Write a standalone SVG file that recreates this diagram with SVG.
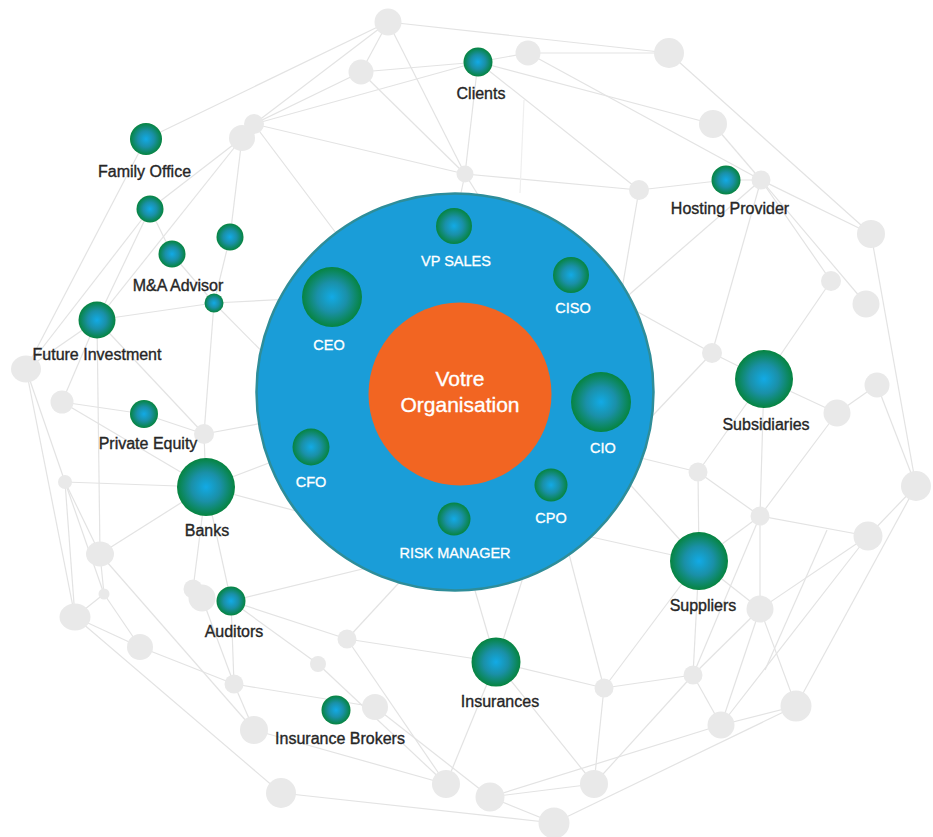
<svg xmlns="http://www.w3.org/2000/svg" width="933" height="837" viewBox="0 0 933 837">
<style>
.e{stroke:#e3e3e3;stroke-width:1.2;fill:none}
.ef{stroke:#efefef;stroke-width:1.2;fill:none}
.g{fill:#e9e9e9}
.n{fill:url(#gn)}
.lbl{font-family:"Liberation Sans",Arial,sans-serif;font-size:16px;fill:#262626;stroke:#262626;stroke-width:0.35;text-anchor:middle}
.in{font-family:"Liberation Sans",Arial,sans-serif;font-size:14.5px;fill:#ffffff;stroke:#ffffff;stroke-width:0.3;text-anchor:middle}
.core{font-family:"Liberation Sans",Arial,sans-serif;font-size:21px;fill:#ffffff;stroke:#ffffff;stroke-width:0.35;text-anchor:middle}
</style>
<defs>
<radialGradient id="gn" cx="50%" cy="50%" r="50%">
<stop offset="0" stop-color="#12aae6"/>
<stop offset="0.5" stop-color="#1a90a8"/>
<stop offset="1" stop-color="#06843f"/>
</radialGradient>
</defs>
<rect width="933" height="837" fill="#ffffff"/>
<g id="connectors">
<line class="e" x1="388" y1="22" x2="146" y2="139"/>
<line class="e" x1="388" y1="22" x2="254" y2="124"/>
<line class="e" x1="388" y1="22" x2="361" y2="72"/>
<line class="e" x1="388" y1="22" x2="465" y2="174"/>
<line class="e" x1="388" y1="22" x2="669" y2="53"/>
<line class="e" x1="361" y1="72" x2="478" y2="62"/>
<line class="e" x1="361" y1="72" x2="465" y2="174"/>
<line class="e" x1="361" y1="72" x2="254" y2="124"/>
<line class="e" x1="254" y1="124" x2="478" y2="62"/>
<line class="e" x1="254" y1="124" x2="465" y2="174"/>
<line class="e" x1="254" y1="124" x2="345" y2="245"/>
<line class="e" x1="242" y1="138" x2="150" y2="209"/>
<line class="e" x1="242" y1="138" x2="97" y2="320"/>
<line class="e" x1="242" y1="138" x2="230" y2="237"/>
<line class="e" x1="230" y1="237" x2="214" y2="303"/>
<line class="e" x1="146" y1="139" x2="26" y2="369"/>
<line class="e" x1="150" y1="209" x2="26" y2="369"/>
<line class="e" x1="150" y1="209" x2="97" y2="320"/>
<line class="e" x1="150" y1="209" x2="172" y2="254"/>
<line class="e" x1="172" y1="254" x2="214" y2="303"/>
<line class="e" x1="214" y1="303" x2="97" y2="320"/>
<line class="e" x1="214" y1="303" x2="332" y2="297"/>
<line class="e" x1="214" y1="303" x2="300" y2="390"/>
<line class="e" x1="214" y1="303" x2="204" y2="434"/>
<line class="e" x1="97" y1="320" x2="26" y2="369"/>
<line class="e" x1="97" y1="320" x2="62" y2="402"/>
<line class="e" x1="97" y1="320" x2="204" y2="434"/>
<line class="e" x1="97" y1="320" x2="100" y2="554"/>
<line class="e" x1="62" y1="402" x2="144" y2="414"/>
<line class="e" x1="62" y1="402" x2="206" y2="487"/>
<line class="e" x1="26" y1="369" x2="75" y2="617"/>
<line class="e" x1="26" y1="369" x2="65" y2="482"/>
<line class="e" x1="65" y1="482" x2="206" y2="487"/>
<line class="e" x1="65" y1="482" x2="75" y2="617"/>
<line class="e" x1="65" y1="482" x2="100" y2="554"/>
<line class="e" x1="65" y1="482" x2="104" y2="594"/>
<line class="e" x1="100" y1="554" x2="206" y2="487"/>
<line class="e" x1="100" y1="554" x2="104" y2="594"/>
<line class="e" x1="100" y1="554" x2="254" y2="730"/>
<line class="e" x1="104" y1="594" x2="75" y2="617"/>
<line class="e" x1="104" y1="594" x2="140" y2="647"/>
<line class="e" x1="75" y1="617" x2="140" y2="647"/>
<line class="e" x1="75" y1="617" x2="281" y2="793"/>
<line class="e" x1="140" y1="647" x2="234" y2="684"/>
<line class="e" x1="234" y1="684" x2="231" y2="601"/>
<line class="e" x1="234" y1="684" x2="202" y2="598"/>
<line class="e" x1="234" y1="684" x2="254" y2="730"/>
<line class="e" x1="234" y1="684" x2="375" y2="707"/>
<line class="e" x1="254" y1="730" x2="446" y2="784"/>
<line class="e" x1="281" y1="793" x2="554" y2="823"/>
<line class="e" x1="206" y1="487" x2="204" y2="434"/>
<line class="e" x1="206" y1="487" x2="231" y2="601"/>
<line class="e" x1="206" y1="487" x2="193" y2="589"/>
<line class="e" x1="206" y1="487" x2="300" y2="512"/>
<line class="e" x1="206" y1="487" x2="311" y2="447"/>
<line class="e" x1="144" y1="414" x2="204" y2="434"/>
<line class="e" x1="204" y1="434" x2="290" y2="418"/>
<line class="e" x1="231" y1="601" x2="420" y2="555"/>
<line class="e" x1="231" y1="601" x2="347" y2="639"/>
<line class="e" x1="231" y1="601" x2="318" y2="664"/>
<line class="e" x1="347" y1="639" x2="496" y2="662"/>
<line class="e" x1="347" y1="639" x2="420" y2="560"/>
<line class="e" x1="347" y1="639" x2="446" y2="784"/>
<line class="e" x1="318" y1="664" x2="446" y2="784"/>
<line class="e" x1="375" y1="707" x2="490" y2="797"/>
<line class="e" x1="446" y1="784" x2="496" y2="662"/>
<line class="e" x1="490" y1="797" x2="594" y2="784"/>
<line class="e" x1="490" y1="797" x2="721" y2="725"/>
<line class="e" x1="490" y1="797" x2="554" y2="823"/>
<line class="e" x1="554" y1="823" x2="796" y2="706"/>
<line class="e" x1="496" y1="662" x2="604" y2="688"/>
<line class="e" x1="496" y1="662" x2="454" y2="519"/>
<line class="e" x1="496" y1="662" x2="535" y2="540"/>
<line class="e" x1="496" y1="662" x2="594" y2="784"/>
<line class="e" x1="604" y1="688" x2="551" y2="485"/>
<line class="e" x1="604" y1="688" x2="594" y2="784"/>
<line class="e" x1="604" y1="688" x2="693" y2="675"/>
<line class="e" x1="604" y1="688" x2="699" y2="561"/>
<line class="e" x1="594" y1="784" x2="693" y2="675"/>
<line class="e" x1="693" y1="675" x2="699" y2="561"/>
<line class="e" x1="693" y1="675" x2="760" y2="609"/>
<line class="e" x1="693" y1="675" x2="721" y2="725"/>
<line class="e" x1="693" y1="675" x2="760" y2="516"/>
<line class="e" x1="721" y1="725" x2="760" y2="609"/>
<line class="e" x1="721" y1="725" x2="796" y2="706"/>
<line class="e" x1="721" y1="725" x2="868" y2="536"/>
<line class="e" x1="827" y1="530" x2="765" y2="670"/>
<line class="e" x1="796" y1="706" x2="760" y2="609"/>
<line class="e" x1="796" y1="706" x2="916" y2="486"/>
<line class="e" x1="760" y1="609" x2="760" y2="516"/>
<line class="e" x1="760" y1="609" x2="699" y2="561"/>
<line class="e" x1="760" y1="609" x2="868" y2="536"/>
<line class="e" x1="760" y1="516" x2="699" y2="561"/>
<line class="e" x1="760" y1="516" x2="698" y2="472"/>
<line class="e" x1="760" y1="516" x2="868" y2="536"/>
<line class="e" x1="760" y1="516" x2="764" y2="379"/>
<line class="e" x1="760" y1="516" x2="837" y2="413"/>
<line class="e" x1="868" y1="536" x2="916" y2="486"/>
<line class="e" x1="698" y1="472" x2="699" y2="561"/>
<line class="e" x1="698" y1="472" x2="764" y2="379"/>
<line class="e" x1="698" y1="472" x2="600" y2="448"/>
<line class="e" x1="699" y1="561" x2="560" y2="530"/>
<line class="e" x1="699" y1="561" x2="590" y2="440"/>
<line class="e" x1="712" y1="353" x2="764" y2="379"/>
<line class="e" x1="764" y1="379" x2="831" y2="281"/>
<line class="e" x1="764" y1="379" x2="837" y2="413"/>
<line class="e" x1="837" y1="413" x2="877" y2="385"/>
<line class="e" x1="877" y1="385" x2="916" y2="486"/>
<line class="e" x1="871" y1="234" x2="916" y2="486"/>
<line class="e" x1="712" y1="353" x2="761" y2="180"/>
<line class="e" x1="712" y1="353" x2="571" y2="275"/>
<line class="e" x1="712" y1="353" x2="620" y2="450"/>
<line class="e" x1="761" y1="180" x2="726" y2="180"/>
<line class="e" x1="713" y1="124" x2="761" y2="180"/>
<line class="e" x1="761" y1="180" x2="831" y2="281"/>
<line class="e" x1="761" y1="180" x2="866" y2="304"/>
<line class="e" x1="761" y1="180" x2="871" y2="234"/>
<line class="e" x1="528" y1="53" x2="761" y2="180"/>
<line class="e" x1="478" y1="62" x2="713" y2="124"/>
<line class="e" x1="478" y1="62" x2="528" y2="53"/>
<line class="e" x1="528" y1="53" x2="669" y2="53"/>
<line class="e" x1="669" y1="53" x2="871" y2="234"/>
<line class="e" x1="478" y1="62" x2="639" y2="190"/>
<line class="e" x1="478" y1="62" x2="465" y2="174"/>
<line class="e" x1="465" y1="174" x2="639" y2="190"/>
<line class="e" x1="639" y1="190" x2="726" y2="180"/>
<line class="e" x1="639" y1="190" x2="615" y2="330"/>
<line class="e" x1="465" y1="174" x2="454" y2="226"/>
<line class="e" x1="465" y1="174" x2="500" y2="230"/>
<line class="e" x1="761" y1="180" x2="600" y2="320"/>
<line class="ef" x1="524" y1="100" x2="520" y2="193"/>
</g>
<g id="network-nodes">
<circle class="g" cx="388" cy="22" r="13.5"/>
<circle class="g" cx="361" cy="72" r="12.5"/>
<circle class="g" cx="528" cy="53" r="12.5"/>
<circle class="g" cx="669" cy="53" r="15"/>
<circle class="g" cx="242" cy="138" r="13"/>
<circle class="g" cx="254" cy="124" r="10"/>
<circle class="g" cx="465" cy="174" r="8.5"/>
<circle class="g" cx="639" cy="190" r="10"/>
<circle class="g" cx="713" cy="124" r="14"/>
<circle class="g" cx="761" cy="180" r="9.5"/>
<circle class="g" cx="871" cy="234" r="14"/>
<circle class="g" cx="831" cy="281" r="10"/>
<circle class="g" cx="866" cy="304" r="13.5"/>
<circle class="g" cx="712" cy="353" r="10"/>
<circle class="g" cx="877" cy="385" r="12.5"/>
<circle class="g" cx="837" cy="413" r="13.5"/>
<circle class="g" cx="916" cy="486" r="15"/>
<circle class="g" cx="698" cy="472" r="9.5"/>
<circle class="g" cx="760" cy="516" r="9.5"/>
<circle class="g" cx="868" cy="536" r="14.5"/>
<circle class="g" cx="760" cy="609" r="13.5"/>
<circle class="g" cx="693" cy="675" r="9.5"/>
<circle class="g" cx="604" cy="688" r="9.5"/>
<circle class="g" cx="721" cy="725" r="13.5"/>
<circle class="g" cx="796" cy="706" r="15.5"/>
<circle class="g" cx="594" cy="784" r="14"/>
<circle class="g" cx="554" cy="823" r="15.5"/>
<circle class="g" cx="490" cy="797" r="14.5"/>
<circle class="g" cx="446" cy="784" r="14"/>
<circle class="g" cx="375" cy="707" r="13"/>
<circle class="g" cx="318" cy="664" r="8"/>
<circle class="g" cx="347" cy="639" r="9.5"/>
<circle class="g" cx="234" cy="684" r="9.5"/>
<circle class="g" cx="254" cy="730" r="14"/>
<circle class="g" cx="281" cy="793" r="15"/>
<circle class="g" cx="140" cy="647" r="13"/>
<ellipse class="g" cx="75" cy="617" rx="15.5" ry="13.5"/>
<circle class="g" cx="104" cy="594" r="5.5"/>
<ellipse class="g" cx="100" cy="554" rx="14" ry="12.5"/>
<circle class="g" cx="65" cy="482" r="7"/>
<circle class="g" cx="62" cy="402" r="11.5"/>
<ellipse class="g" cx="26" cy="369" rx="15" ry="13.5"/>
<circle class="g" cx="204" cy="434" r="10"/>
<circle class="g" cx="193" cy="589" r="9.5"/>
<circle class="g" cx="202" cy="598" r="13.5"/>
</g>
<g id="organisation-ring">
<circle cx="455" cy="392" r="198.5" fill="#1a9dd8" stroke="#2e8d99" stroke-width="2.5"/>
</g>
<g id="votre-organisation">
<circle cx="460" cy="394" r="91.5" fill="#f26522"/>
<text class="core" x="460" y="386">Votre</text>
<text class="core" x="460" y="412">Organisation</text>
</g>
<g id="vp-sales"><circle class="n" cx="454" cy="226" r="18"/><text class="in" x="456" y="266">VP SALES</text></g>
<g id="ciso"><circle class="n" cx="571" cy="275" r="18"/><text class="in" x="573" y="313">CISO</text></g>
<g id="ceo"><circle class="n" cx="332" cy="297" r="30"/><text class="in" x="329" y="350">CEO</text></g>
<g id="cio"><circle class="n" cx="601" cy="402" r="30"/><text class="in" x="603" y="453">CIO</text></g>
<g id="cfo"><circle class="n" cx="311" cy="447" r="18.5"/><text class="in" x="311" y="487">CFO</text></g>
<g id="cpo"><circle class="n" cx="551" cy="485" r="16.5"/><text class="in" x="551" y="523">CPO</text></g>
<g id="risk-manager"><circle class="n" cx="454" cy="519" r="16.5"/><text class="in" x="455" y="558">RISK MANAGER</text></g>
<g id="clients"><circle class="n" cx="478" cy="62" r="14.5"/><text class="lbl" x="481" y="99">Clients</text></g>
<g id="family-office"><circle class="n" cx="146" cy="139" r="16"/><text class="lbl" x="144.5" y="177">Family Office</text></g>
<g id="node-a"><circle class="n" cx="150" cy="209" r="13.5"/></g>
<g id="ma-advisor"><circle class="n" cx="172" cy="254" r="13.5"/><text class="lbl" x="178" y="291">M&amp;A Advisor</text></g>
<g id="node-b"><circle class="n" cx="230" cy="237" r="13.5"/></g>
<g id="node-c"><circle class="n" cx="214" cy="303" r="9.5"/></g>
<g id="future-investment"><circle class="n" cx="97" cy="320" r="18.5"/><text class="lbl" x="97" y="360">Future Investment</text></g>
<g id="private-equity"><circle class="n" cx="144" cy="414" r="14"/><text class="lbl" x="148" y="449">Private Equity</text></g>
<g id="banks"><circle class="n" cx="206" cy="487" r="29"/><text class="lbl" x="207" y="536">Banks</text></g>
<g id="auditors"><circle class="n" cx="231" cy="601" r="14.5"/><text class="lbl" x="234" y="637">Auditors</text></g>
<g id="insurance-brokers"><circle class="n" cx="336" cy="710" r="14.5"/><text class="lbl" x="340" y="744">Insurance Brokers</text></g>
<g id="insurances"><circle class="n" cx="496" cy="662" r="24.5"/><text class="lbl" x="500" y="707">Insurances</text></g>
<g id="suppliers"><circle class="n" cx="699" cy="561" r="29"/><text class="lbl" x="703" y="611">Suppliers</text></g>
<g id="subsidiaries"><circle class="n" cx="764" cy="379" r="29"/><text class="lbl" x="766" y="430">Subsidiaries</text></g>
<g id="hosting-provider"><circle class="n" cx="726" cy="180" r="14.5"/><text class="lbl" x="730" y="214">Hosting Provider</text></g>
</svg>
